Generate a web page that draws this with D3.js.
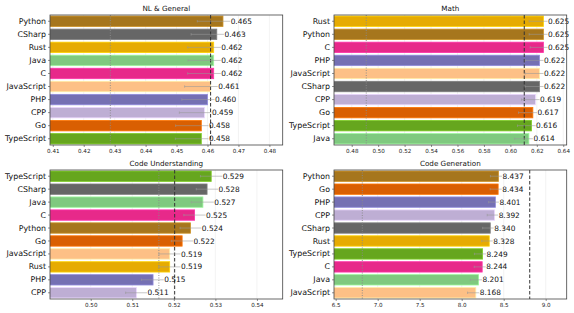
<!DOCTYPE html>
<html>
<head>
<meta charset="utf-8">
<script src="https://cdn.jsdelivr.net/npm/d3@7"></script>
<style>
  body { margin: 0; background: #fff; }
  svg { display: block; font-family: "DejaVu Sans", sans-serif; }
</style>
</head>
<body>
<script>
var w = 574;
var h = 313;

// colours per language
var langColors = {
   Python: '#a6761d', CSharp: '#666666', Rust: '#e6ab02', Java: '#7fc97f',
   C: '#e7298a', JavaScript: '#fdc086', PHP: '#7570b3', CPP: '#beaed4',
   Go: '#d95f02', TypeScript: '#66a61e'
};

// NL & General
var nlLangs = ['Python', 'CSharp', 'Rust', 'Java', 'C', 'JavaScript', 'PHP', 'CPP', 'Go', 'TypeScript'];
var nlScores = [0.465, 0.463, 0.462, 0.462, 0.462, 0.461, 0.460, 0.459, 0.458, 0.458];
var nlErr = [0.0083, 0.0083, 0.0084, 0.0083, 0.0084, 0.0084, 0.0083, 0.0081, 0.0083, 0.0084];
var nlTicks = [0.41, 0.42, 0.43, 0.44, 0.45, 0.46, 0.47, 0.48];
var nlRefs = [0.4286, 0.461];

// Math
var mathLangs = ['Rust', 'Python', 'C', 'PHP', 'JavaScript', 'CSharp', 'CPP', 'Go', 'TypeScript', 'Java'];
var mathScores = [0.625, 0.625, 0.625, 0.622, 0.622, 0.622, 0.619, 0.617, 0.616, 0.614];
var mathErr = [0.0108, 0.0108, 0.0100, 0.0108, 0.0108, 0.0108, 0.0106, 0.0108, 0.0106, 0.0108];
var mathTicks = [0.48, 0.50, 0.52, 0.54, 0.56, 0.58, 0.60, 0.62, 0.64];
var mathRefs = [0.491, 0.6105];

// Code Understanding
var cuLangs = ['TypeScript', 'CSharp', 'Java', 'C', 'Python', 'Go', 'JavaScript', 'Rust', 'PHP', 'CPP'];
var cuScores = [0.529, 0.528, 0.527, 0.525, 0.524, 0.522, 0.519, 0.519, 0.515, 0.511];
var cuErr = [0.0026, 0.0026, 0.0028, 0.0026, 0.0025, 0.0026, 0.0026, 0.0026, 0.0028, 0.0026];
var cuTicks = [0.50, 0.51, 0.52, 0.53, 0.54];
var cuRefs = [0.5164, 0.5202];

// Code Generation
var cgLangs = ['Python', 'Go', 'PHP', 'CPP', 'CSharp', 'Rust', 'TypeScript', 'C', 'Java', 'JavaScript'];
var cgScores = [8.437, 8.434, 8.401, 8.392, 8.340, 8.328, 8.249, 8.244, 8.201, 8.168];
var cgErr = [0.095, 0.095, 0.08, 0.088, 0.09, 0.09, 0.098, 0.095, 0.098, 0.098];
var cgTicks = [6.5, 7.0, 7.5, 8.0, 8.5, 9.0];
var cgRefs = [6.817, 8.81];

var panels = [
   { title: 'NL & General', langs: nlLangs, vals: nlScores, err: nlErr, ticks: nlTicks, refs: nlRefs,
     dom: [0.4091, 0.4843], tf: '.2f', x0: 50, x1: 282.7, y0: 15, y1: 145 },
   { title: 'Math', langs: mathLangs, vals: mathScores, err: mathErr, ticks: mathTicks, refs: mathRefs,
     dom: [0.4666, 0.6426], tf: '.2f', x0: 334, x1: 566.7, y0: 15, y1: 145 },
   { title: 'Code Understanding', langs: cuLangs, vals: cuScores, err: cuErr, ticks: cuTicks, refs: cuRefs,
     dom: [0.4902, 0.5462], tf: '.2f', x0: 50, x1: 282.7, y0: 170, y1: 299 },
   { title: 'Code Generation', langs: cgLangs, vals: cgScores, err: cgErr, ticks: cgTicks, refs: cgRefs,
     dom: [6.48, 9.25], tf: '.1f', x0: 334, x1: 566.7, y0: 170, y1: 299 }
];

var svg = d3.select('body')
   .append('svg')
   .attr('width', w)
   .attr('height', h);

panels.forEach(function(p, pi) {
   var x = d3.scaleLinear().domain(p.dom).range([p.x0, p.x1]);
   var y = d3.scaleBand().domain(p.langs).range([p.y0, p.y1]).paddingInner(0.2).paddingOuter(0.08);
   var g = svg.append('g');

   var clipId = 'clip' + pi;
   g.append('clipPath').attr('id', clipId)
      .append('rect')
      .attr('x', p.x0).attr('y', p.y0)
      .attr('width', p.x1 - p.x0).attr('height', p.y1 - p.y0);

   // faint grid
   g.selectAll('line.grid')
      .data(p.ticks)
      .enter()
      .append('line')
      .attr('class', 'grid')
      .attr('x1', function(d) { return x(d); })
      .attr('x2', function(d) { return x(d); })
      .attr('y1', p.y0).attr('y2', p.y1)
      .attr('stroke', '#ebebeb')
      .attr('stroke-width', 0.6);

   var inner = g.append('g').attr('clip-path', 'url(#' + clipId + ')');

   inner.selectAll('rect.bar')
      .data(p.vals)
      .enter()
      .append('rect')
      .attr('class', 'bar')
      .attr('x', p.x0 - 2)
      .attr('y', function(d, i) { return y(p.langs[i]); })
      .attr('width', function(d) { return x(d) - p.x0 + 2; })
      .attr('height', y.bandwidth())
      .attr('fill', function(d, i) { return langColors[p.langs[i]]; })
      .attr('stroke', function(d, i) { return d3.color(langColors[p.langs[i]]).brighter(0.6); })
      .attr('stroke-width', 0.8);

   // reference lines
   inner.append('line')
      .attr('x1', x(p.refs[0])).attr('x2', x(p.refs[0]))
      .attr('y1', p.y0).attr('y2', p.y1)
      .attr('stroke', '#8a8a8a')
      .attr('stroke-width', 0.9)
      .attr('stroke-dasharray', '1,1.5');
   inner.append('line')
      .attr('x1', x(p.refs[1])).attr('x2', x(p.refs[1]))
      .attr('y1', p.y0).attr('y2', p.y1)
      .attr('stroke', '#333')
      .attr('stroke-width', 1)
      .attr('stroke-dasharray', '3.5,2');

   // error whiskers, running up to the value label
   var lab = function(d) { return x(d * 1.005); };
   inner.selectAll('line.err')
      .data(p.vals)
      .enter()
      .append('line')
      .attr('class', 'err')
      .attr('x1', function(d, i) { return x(d - p.err[i]); })
      .attr('x2', function(d) { return lab(d); })
      .attr('y1', function(d, i) { return y(p.langs[i]) + y.bandwidth() / 2; })
      .attr('y2', function(d, i) { return y(p.langs[i]) + y.bandwidth() / 2; })
      .attr('stroke', '#999')
      .attr('stroke-opacity', 0.8)
      .attr('stroke-width', 0.7);
   inner.selectAll('line.cap')
      .data(p.vals)
      .enter()
      .append('line')
      .attr('class', 'cap')
      .attr('x1', function(d, i) { return x(d - p.err[i]); })
      .attr('x2', function(d, i) { return x(d - p.err[i]); })
      .attr('y1', function(d, i) { return y(p.langs[i]) + y.bandwidth() / 2 - 1.2; })
      .attr('y2', function(d, i) { return y(p.langs[i]) + y.bandwidth() / 2 + 1.2; })
      .attr('stroke', '#999')
      .attr('stroke-width', 0.6);

   g.selectAll('text.val')
      .data(p.vals)
      .enter()
      .append('text')
      .attr('class', 'val')
      .text(function(d) { return d3.format('.3f')(d); })
      .attr('x', function(d) { return lab(d) + 0.5; })
      .attr('y', function(d, i) { return y(p.langs[i]) + y.bandwidth() / 2; })
      .attr('dy', '0.35em')
      .attr('font-size', '7.4px')
      .attr('fill', '#111');

   // frame
   g.append('rect')
      .attr('x', p.x0).attr('y', p.y0)
      .attr('width', p.x1 - p.x0).attr('height', p.y1 - p.y0)
      .attr('fill', 'none')
      .attr('stroke', '#444')
      .attr('stroke-width', 0.8);

   var xAxis = d3.axisBottom(x).tickValues(p.ticks).tickFormat(d3.format(p.tf)).tickSize(2).tickPadding(2);
   var ax = g.append('g').attr('transform', 'translate(0,' + p.y1 + ')').call(xAxis);
   ax.select('.domain').remove();
   ax.selectAll('text').attr('font-size', '5.6px').attr('fill', '#222').attr('font-family', 'DejaVu Sans');
   ax.selectAll('line').attr('stroke', '#444').attr('stroke-width', 0.6);

   var yAxis = d3.axisLeft(y).tickSize(2).tickPadding(2);
   var ay = g.append('g').attr('transform', 'translate(' + p.x0 + ',0)').call(yAxis);
   ay.select('.domain').remove();
   ay.selectAll('text').attr('font-size', '7.9px').attr('fill', '#111').attr('font-family', 'DejaVu Sans');
   ay.selectAll('line').attr('stroke', '#444').attr('stroke-width', 0.6);

   g.append('text')
      .text(p.title)
      .attr('x', (p.x0 + p.x1) / 2)
      .attr('y', p.y0 - 4)
      .attr('text-anchor', 'middle')
      .attr('font-size', '7.2px')
      .attr('fill', '#111');
});
</script>
</body>
</html>
